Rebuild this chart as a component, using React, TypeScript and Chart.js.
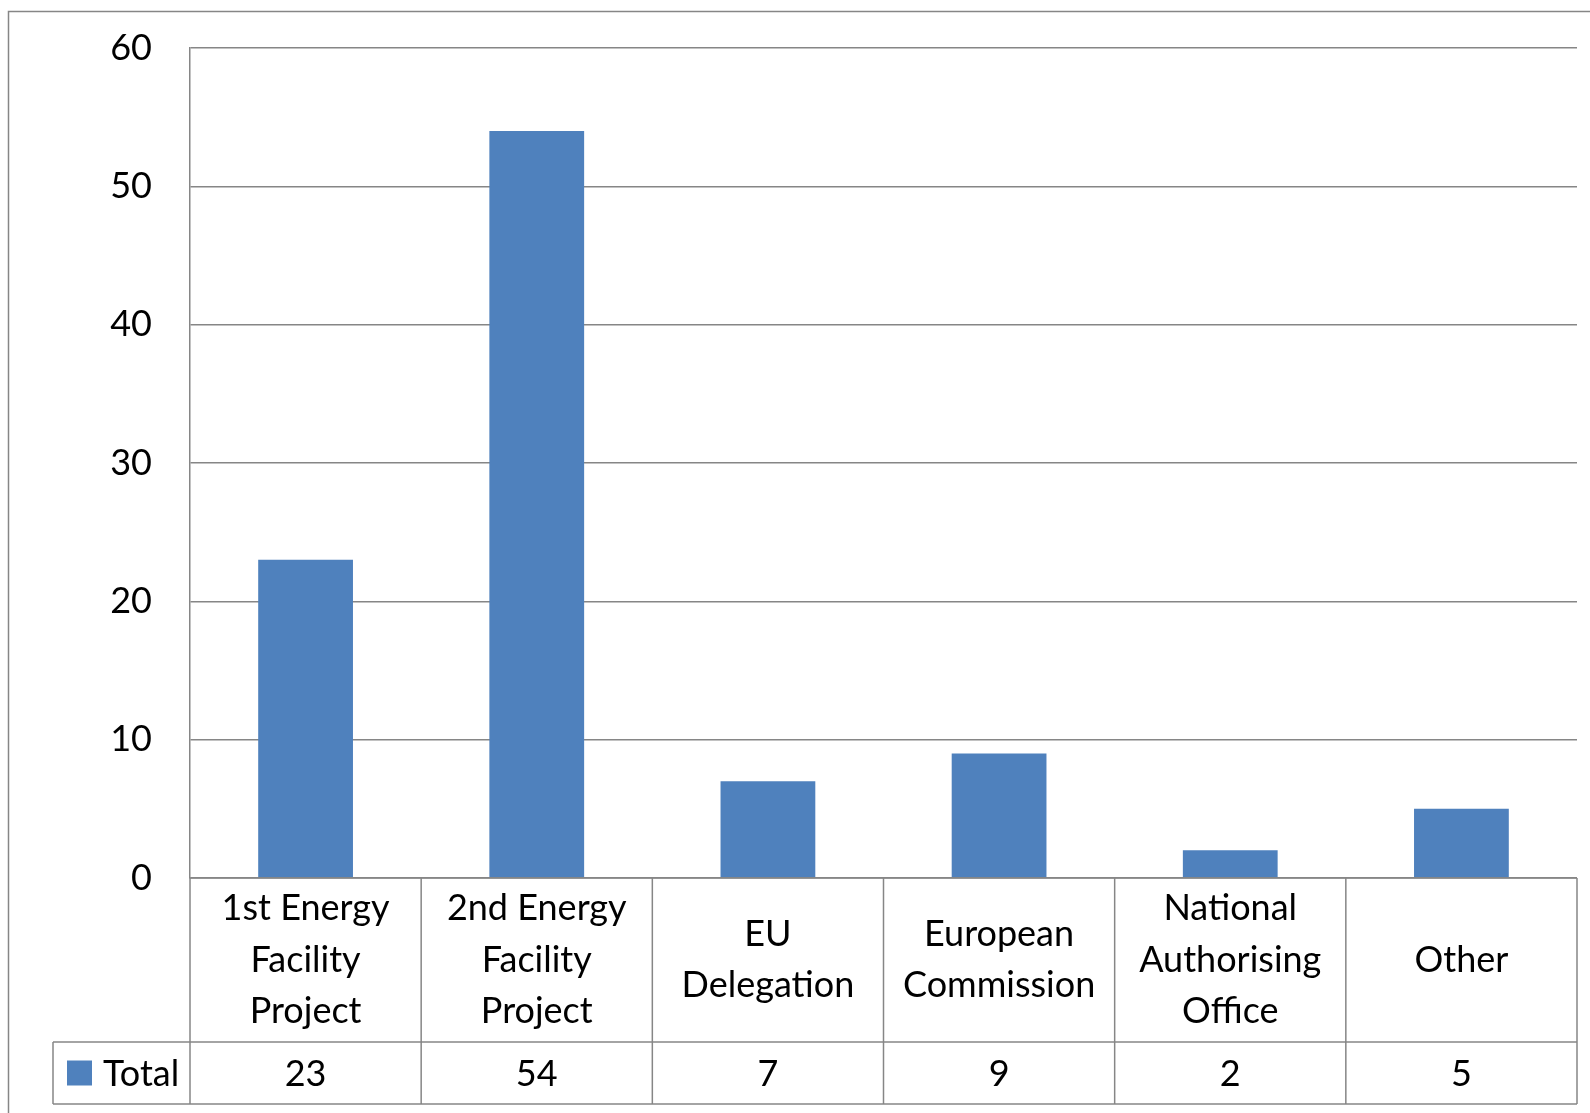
import React, { useEffect, useRef } from "react";
import { Chart, registerables } from "chart.js";

Chart.register(...registerables);

const categories: string[][] = [
  ["1st Energy", "Facility", "Project"],
  ["2nd Energy", "Facility", "Project"],
  ["EU", "Delegation"],
  ["European", "Commission"],
  ["National", "Authorising", "Office"],
  ["Other"],
];
const seriesName = "Total";
const totals = [23, 54, 7, 9, 2, 5];
const yMin = 0;
const yMax = 60;
const yStep = 10;

const FONT = "Lato, 'Open Sans', sans-serif";
const FONT_SIZE = 36;
const LINE_COLOR = "#868686";
const BAR_COLOR = "#4F81BD";

const tablePlugin = {
  id: "dataTable",
  afterDraw(chart: any) {
    const ctx = chart.ctx as CanvasRenderingContext2D;
    const area = chart.chartArea;
    const x = chart.scales.x;
    const n = categories.length;
    const colW = (x.right - x.left) / n;
    const top = area.bottom;
    const mid = 1042;
    const bottom = 1104;
    const legendLeft = 53;

    ctx.save();
    ctx.strokeStyle = LINE_COLOR;
    ctx.lineWidth = 1.5;
    ctx.beginPath();
    ctx.moveTo(x.left, top);
    ctx.lineTo(x.right, top);
    ctx.moveTo(legendLeft, mid);
    ctx.lineTo(x.right, mid);
    ctx.moveTo(legendLeft, bottom);
    ctx.lineTo(x.right, bottom);
    for (let i = 0; i <= n; i++) {
      const px = x.left + i * colW;
      ctx.moveTo(px, top);
      ctx.lineTo(px, bottom);
    }
    ctx.moveTo(legendLeft, mid);
    ctx.lineTo(legendLeft, bottom);
    // outer chart border
    ctx.moveTo(8.5, chart.height + 5);
    ctx.lineTo(8.5, 11.5);
    ctx.lineTo(chart.width + 5, 11.5);
    ctx.stroke();

    ctx.fillStyle = "#000";
    ctx.font = `${FONT_SIZE}px ${FONT}`;
    ctx.textAlign = "center";
    ctx.textBaseline = "middle";
    const lh = 51.5;
    categories.forEach((lines, i) => {
      const cx = x.getPixelForValue(i);
      const cy = (top + mid) / 2;
      const start = cy - ((lines.length - 1) * lh) / 2;
      lines.forEach((ln, j) => ctx.fillText(ln, cx, start + j * lh));
      ctx.fillText(String(totals[i]), cx, (mid + bottom) / 2 + 1);
    });

    const ly = (mid + bottom) / 2;
    ctx.fillStyle = BAR_COLOR;
    ctx.fillRect(67, ly - 12.5, 25, 25);
    ctx.fillStyle = "#000";
    ctx.textAlign = "left";
    ctx.fillText(seriesName, 103, ly + 1);
    ctx.restore();
  },
};

export default function App() {
  const ref = useRef<HTMLCanvasElement | null>(null);

  useEffect(() => {
    if (!ref.current) return;
    const chart = new Chart(ref.current, {
      type: "bar",
      data: {
        labels: categories.map((c) => c.join(" ")),
        datasets: [
          {
            label: seriesName,
            data: totals,
            backgroundColor: BAR_COLOR,
            barPercentage: 0.41,
            categoryPercentage: 1,
          },
        ],
      },
      options: {
        animation: false,
        responsive: false,
        devicePixelRatio: 1,
        layout: { padding: { top: 48, bottom: 235, right: 13, left: 0 } },
        plugins: {
          legend: { display: false },
          title: { display: false },
          tooltip: { enabled: false },
        },
        scales: {
          x: {
            display: false,
          },
          y: {
            min: yMin,
            max: yMax,
            ticks: {
              stepSize: yStep,
              color: "#000",
              padding: 38,
              font: { family: FONT, size: FONT_SIZE },
            },
            grid: {
              color: LINE_COLOR,
              lineWidth: 1.5,
              drawTicks: false,
            },
            border: { color: LINE_COLOR, width: 1.5 },
            afterFit: (scale: any) => {
              scale.width = 190;
              scale.paddingTop = 0;
              scale.paddingBottom = 0;
            },
          },
        },
      },
      plugins: [tablePlugin],
    });
    return () => chart.destroy();
  }, []);

  return (
    <div style={{ position: "fixed", left: 0, top: 0, width: 1590, height: 1113, background: "#fff" }}>
      <canvas ref={ref} width={1590} height={1113} style={{ display: "block" }} />
    </div>
  );
}
